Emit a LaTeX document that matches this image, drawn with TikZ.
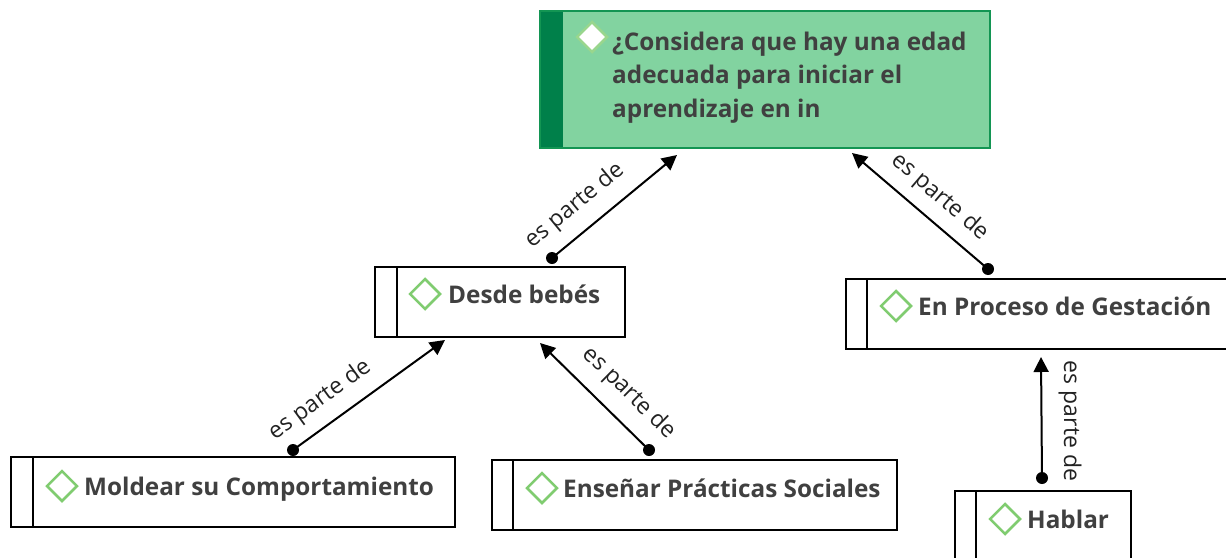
\documentclass[tikz,border=0pt]{standalone}
\usepackage{fontspec}
\setmainfont{Open Sans}
\usetikzlibrary{arrows.meta,shapes.geometric,calc}
\definecolor{txt}{HTML}{404040}
\definecolor{lbl}{HTML}{222222}
\definecolor{qfill}{HTML}{82D3A0}
\definecolor{qdark}{HTML}{00804A}
\definecolor{qedge}{HTML}{139553}
\definecolor{dia}{HTML}{80CC70}
\begin{document}
\begin{tikzpicture}[x=1pt,y=-1pt,
  conceptbox/.style={draw=black, line width=2pt, fill=white, rectangle, inner sep=0pt, outer sep=0pt, anchor=north west},
  boxtext/.style={font=\bfseries\fontsize{24.3}{30}\selectfont, text=txt, anchor=base west, inner sep=0pt},
  lbl/.style={font=\fontsize{23}{27}\selectfont, text=lbl, inner sep=0pt},
  dmark/.style={diamond, draw=dia, line width=2.5pt, fill=white, minimum width=31pt, minimum height=31pt, inner sep=0pt},
  link/.style={line width=2pt, -{Triangle[length=15pt,width=15pt]}},
  dotend/.style={fill=black}
]
\useasboundingbox (0,0) rectangle (1226,557);
\clip (0,0) rectangle (1226,557);

% top question box
\node[conceptbox, draw=qedge, fill=qfill, minimum width=450pt, minimum height=137pt] (top) at (540,11) {};
\fill[qdark] (top.north west) rectangle ([xshift=23pt]top.south west);
\draw[qedge, line width=2pt] (top.north west) rectangle (top.south east);
\node[dmark, draw=dia!80!white] (dtop) at (592,37) {};
\node[boxtext] (q1) at (612,50) {¿Considera que hay una edad};
\node[boxtext] (q2) at (612,83.5) {adecuada para iniciar el};
\node[boxtext] (q3) at (612,117) {aprendizaje en in};

% concept boxes
\node[conceptbox, minimum width=250pt, minimum height=70pt] (desde) at (375,267) {};
\draw[line width=2pt] ([xshift=22pt]desde.north west) -- ([xshift=22pt]desde.south west);
\node[dmark] (ddesde) at (425,294) {};
\node[boxtext] (tdesde) at (448,303) {Desde bebés};

\node[conceptbox, minimum width=400pt, minimum height=70pt] (gest) at (846,279) {};
\draw[line width=2pt] ([xshift=21pt]gest.north west) -- ([xshift=21pt]gest.south west);
\node[dmark] (dgest) at (896,306) {};
\node[boxtext] (tgest) at (918,315) {En Proceso de Gestación};

\node[conceptbox, minimum width=444pt, minimum height=70pt] (mold) at (11,457) {};
\draw[line width=2pt] ([xshift=22pt]mold.north west) -- ([xshift=22pt]mold.south west);
\node[dmark] (dmold) at (62,486) {};
\node[boxtext] (tmold) at (84,495) {Moldear su Comportamiento};

\node[conceptbox, minimum width=405pt, minimum height=70pt] (ens) at (492,460) {};
\draw[line width=2pt] ([xshift=21pt]ens.north west) -- ([xshift=21pt]ens.south west);
\node[dmark] (dens) at (542,488) {};
\node[boxtext] (tens) at (563,497) {Enseñar Prácticas Sociales};

\node[conceptbox, minimum width=176pt, minimum height=90pt] (habl) at (955,491) {};
\draw[line width=2pt] ([xshift=21pt]habl.north west) -- ([xshift=21pt]habl.south west);
\node[dmark] (dhabl) at (1005,519) {};
\node[boxtext] (thabl) at (1027,528) {Hablar};

% connector end points
\coordinate (c1) at ([xshift=177pt,yshift=9pt]desde.north west);
\coordinate (t1) at ([xshift=137pt,yshift=-7pt]top.south west);
\coordinate (c2) at ([xshift=142pt,yshift=10pt]gest.north west);
\coordinate (t2) at ([xshift=312pt,yshift=-5pt]top.south west);
\coordinate (c3) at ([xshift=282pt,yshift=7pt]mold.north west);
\coordinate (t3) at ([xshift=70pt,yshift=-3pt]desde.south west);
\coordinate (c4) at ([xshift=157pt,yshift=10pt]ens.north west);
\coordinate (t4) at ([xshift=165pt,yshift=-6pt]desde.south west);
\coordinate (c5) at ([xshift=87pt,yshift=13pt]habl.north west);
\coordinate (t5) at ([xshift=195pt,yshift=-8pt]gest.south west);

\foreach \i in {1,...,5}{
  \draw[link] (c\i) -- (t\i);
  \fill[dotend] (c\i) circle (6pt);
}

\node[lbl, rotate=39.5] (l1) at (575,206) {es parte de};
\node[lbl, rotate=-40.5] (l2) at (940,197) {es parte de};
\node[lbl, rotate=35.9] (l3) at (320,400) {es parte de};
\node[lbl, rotate=-44.5] (l4) at (629,393) {es parte de};
\node[lbl, rotate=-90] (l5) at (1070,421) {es parte de};
\end{tikzpicture}
\end{document}
